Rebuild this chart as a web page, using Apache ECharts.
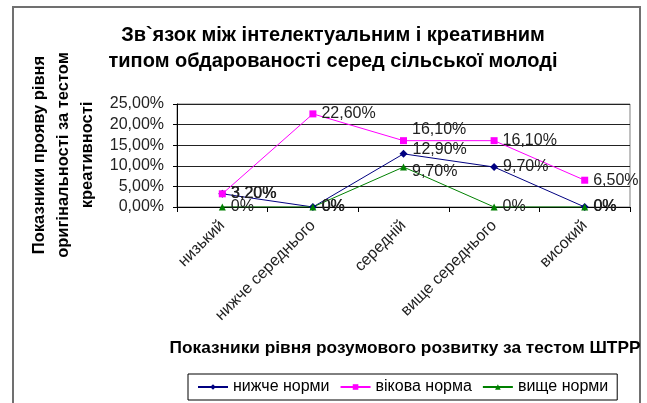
<!DOCTYPE html>
<html>
<head>
<meta charset="utf-8">
<script src="https://cdn.jsdelivr.net/npm/echarts@6/dist/echarts.min.js"></script>
<style>html,body{margin:0;padding:0;background:#fff}#c{width:647px;height:403px}</style>
</head>
<body>
<div id="c"></div>
<script>
var categories = ['низький', 'нижче середнього', 'середній', 'вище середнього', 'високий'];
var belowNorm = [3.2, 0, 12.9, 9.7, 0];
var ageNorm = [3.2, 22.6, 16.1, 16.1, 6.5];
var aboveNorm = [0, 0, 9.7, 0, 0];
var seriesNames = ['нижче норми', 'вікова норма', 'вище норми'];
var titleLines = ['Зв`язок між інтелектуальним і креативним', 'типом обдарованості серед сільської молоді'];
var yAxisTitle = ['Показники прояву рівня', 'оригінальності за тестом', 'креативності'];
var xAxisTitle = 'Показники рівня розумового розвитку за тестом ШТРР';

function pct(v) {
  if (v === 0) return '0%';
  return v.toFixed(2).replace('.', ',') + '%';
}
var FONT = 'Liberation Sans, Arial, sans-serif';
var chart = echarts.init(document.getElementById('c'), null, {renderer: 'canvas'});
// vertical nudge of the crowded labels at the middle category (layout only)
function nudge(dy) {
  return function (params) {
    if (params.dataIndex === 2) {
      return {y: params.labelRect.y + dy};
    }
    return {};
  };
}
function mk(name, data, color, symbol, size, dy) {
  return {
    name: name, type: 'line', data: data, symbol: symbol, symbolSize: size,
    lineStyle: {color: color, width: 1}, itemStyle: {color: color},
    label: {show: true, position: 'right', distance: 5, color: '#222', fontFamily: FONT, fontSize: 16,
      formatter: function (p) { return pct(p.value); }},
    labelLayout: nudge(dy),
    emphasis: {disabled: true}, animation: false
  };
}
chart.setOption({
  backgroundColor: '#fff',
  animation: false,
  title: {
    text: titleLines.join('\n'), left: 328, top: 17, textAlign: 'center',
    textStyle: {fontFamily: FONT, fontSize: 20, fontWeight: 'bold', color: '#000', lineHeight: 26}
  },
  legend: {
    data: seriesNames, left: 188, top: 374, width: 430, height: 18,
    borderColor: '#000', borderWidth: 1, padding: [5, 9, 5, 9], itemGap: 10,
    itemWidth: 30, itemHeight: 7,
    textStyle: {fontFamily: FONT, fontSize: 16, color: '#000'}
  },
  grid: {left: 177, right: 17, top: 104, bottom: 196, show: true, borderColor: '#808080', borderWidth: 1,
    outerBoundsMode: 'none', containLabel: false},
  xAxis: {
    type: 'category', data: categories, boundaryGap: true,
    axisLine: {lineStyle: {color: '#000'}},
    axisTick: {show: true, alignWithLabel: false, length: 5, lineStyle: {color: '#000'}},
    axisLabel: {rotate: 45, interval: 0, fontFamily: FONT, fontSize: 16, color: '#222', margin: 16},
    name: xAxisTitle, nameLocation: 'middle', nameGap: 133,
    nameTextStyle: {fontFamily: FONT, fontSize: 17.3, fontWeight: 'bold', color: '#000', padding: [0, 0, 0, 3]}
  },
  yAxis: {
    type: 'value', min: 0, max: 25, interval: 5,
    axisLine: {show: true, lineStyle: {color: '#000'}},
    axisTick: {show: true, length: 4, lineStyle: {color: '#000'}},
    splitLine: {lineStyle: {color: '#222', width: 1}},
    axisLabel: {fontFamily: FONT, fontSize: 16, color: '#222', margin: 13,
      formatter: function (v) { return v.toFixed(2).replace('.', ',') + '%'; }}
  },
  graphic: [
    {type: 'polyline', shape: {points: [[13, 403], [13, 7], [640, 7], [640, 403]]},
      style: {stroke: '#707070', lineWidth: 2, fill: null}, silent: true},
    {type: 'text', rotation: Math.PI / 2, x: 63, y: 155,
      style: {text: yAxisTitle.join('\n'), align: 'center', verticalAlign: 'middle',
        font: 'bold 16.5px ' + FONT, fill: '#000', lineHeight: 24}}
  ],
  series: [
    mk(seriesNames[0], belowNorm, '#000080', 'diamond', 8, -4),
    mk(seriesNames[1], ageNorm, '#ff00ff', 'rect', 7, -11),
    mk(seriesNames[2], aboveNorm, '#008000', 'triangle', 7, 5)
  ]
});
</script>
</body>
</html>
